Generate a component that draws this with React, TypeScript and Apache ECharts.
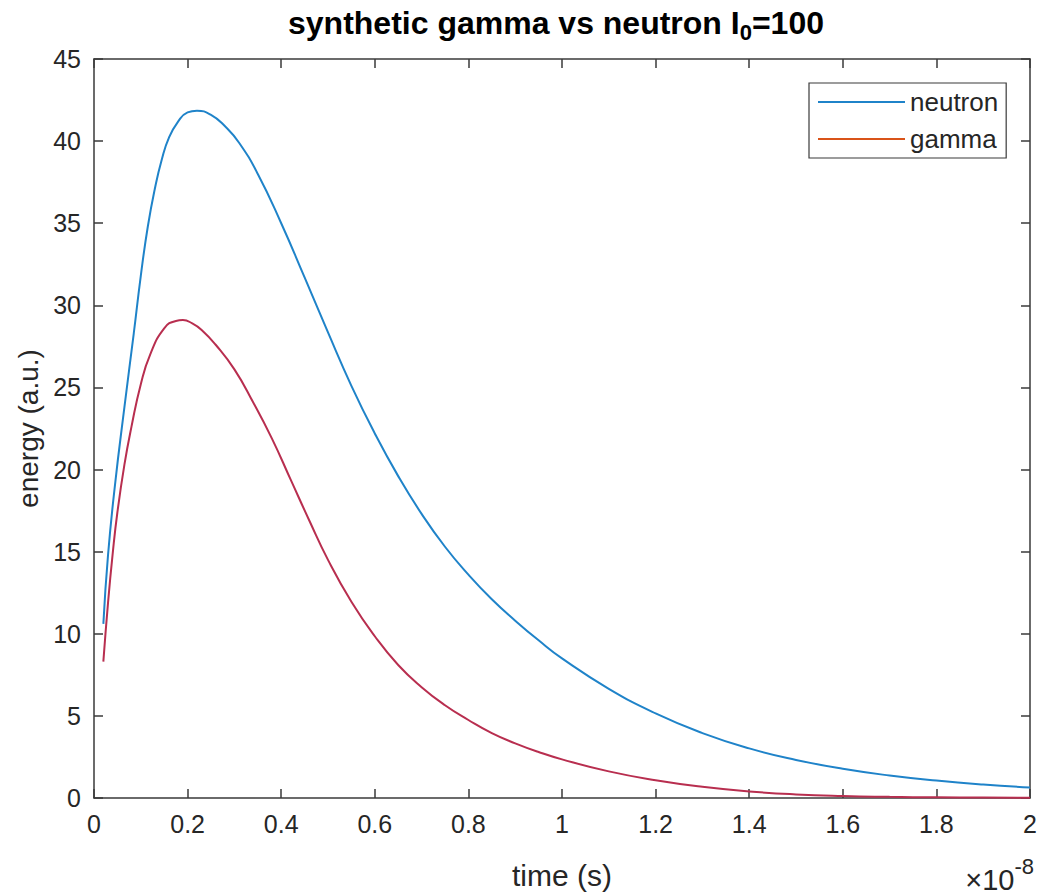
import React, { useEffect, useRef } from 'react';
import * as echarts from 'echarts';

// time in units of 1e-8 s
const neutronTime = [0.02, 0.03, 0.045, 0.065, 0.085, 0.1, 0.115, 0.13, 0.145, 0.16, 0.18, 0.2, 0.22, 0.25, 0.28, 0.31, 0.35, 0.4, 0.45, 0.5, 0.55, 0.6, 0.65, 0.7, 0.75, 0.8, 0.85, 0.9, 0.95, 1.0, 1.1, 1.2, 1.3, 1.4, 1.5, 1.6, 1.7, 1.8, 1.9, 2.0];
const neutronEnergy = [10.6, 14.8, 19.1, 23.8, 28.3, 31.8, 34.8, 37.1, 38.9, 40.2, 41.2, 41.75, 41.85, 41.6, 40.9, 39.9, 38.0, 35.0, 31.7, 28.35, 25.1, 22.2, 19.6, 17.3, 15.3, 13.6, 12.1, 10.8, 9.6, 8.5, 6.65, 5.15, 3.95, 3.02, 2.32, 1.78, 1.37, 1.06, 0.82, 0.64];

const gammaTime = [0.02, 0.03, 0.04, 0.05, 0.065, 0.08, 0.1, 0.12, 0.15, 0.175, 0.19, 0.21, 0.23, 0.26, 0.3, 0.34, 0.38, 0.42, 0.46, 0.5, 0.55, 0.6, 0.65, 0.7, 0.75, 0.8, 0.85, 0.9, 0.95, 1.0, 1.1, 1.2, 1.3, 1.4, 1.5, 1.6, 1.7, 1.8, 1.9, 2.0];
const gammaEnergy = [8.3, 11.9, 14.9, 17.4, 20.3, 22.6, 25.2, 27.0, 28.6, 29.05, 29.1, 28.9, 28.5, 27.6, 26.1, 24.1, 21.9, 19.4, 16.9, 14.5, 11.95, 9.85, 8.1, 6.75, 5.65, 4.75, 3.95, 3.33, 2.8, 2.35, 1.62, 1.08, 0.68, 0.4, 0.22, 0.12, 0.07, 0.04, 0.025, 0.015];

const seriesNames = ['neutron', 'gamma'];
const titleMain = 'synthetic gamma vs neutron I';
const titleSub = '0';
const titleTail = '=100';
const xAxisName = 'time (s)';
const yAxisName = 'energy (a.u.)';
const xRange = [0, 2];
const yRange = [0, 45];

const FONT = '"Liberation Sans", Arial, Helvetica, sans-serif';
const TXT = '#262626';
const AX = '#3a3a3a';
const BLUE = '#1f83c9';
const CRIMSON = '#b82e4f';
const ORANGE = '#d95319';

const GRID = { left: 94, right: 13, top: 59, bottom: 96 };

export default function App() {
  const ref = useRef<HTMLDivElement>(null);
  useEffect(() => {
    document.body.style.margin = '0';
    const chart = echarts.init(ref.current!, undefined, { renderer: 'svg' });
    const axisCommon = {
      type: 'value' as const,
      axisLine: { show: true, onZero: false, lineStyle: { color: AX, width: 1.5 } },
      axisTick: { show: true, inside: true, length: 9, lineStyle: { color: AX, width: 1.5 } },
      splitLine: { show: false },
    };
    const option: any = {
      animation: false,
      backgroundColor: '#ffffff',
      grid: { ...GRID, containLabel: false },
      graphic: [
        {
          type: 'text',
          x: 556,
          y: 23,
          style: {
            text: `{a|${titleMain}}{b|${titleSub}}{a|${titleTail}}`,
            align: 'center',
            verticalAlign: 'middle',
            rich: {
              a: { fontSize: 32, fontWeight: 'bold', fontFamily: FONT, fill: '#000000' },
              b: { fontSize: 22, fontWeight: 'bold', fontFamily: FONT, fill: '#000000', padding: [19, 0, 0, 0] },
            },
          },
        },
        {
          type: 'text',
          x: 1034,
          y: 880,
          style: {
            text: '{a|×10}{b|-8}',
            align: 'right',
            verticalAlign: 'middle',
            rich: {
              a: { fontSize: 29, fontFamily: FONT, fill: TXT },
              b: { fontSize: 22, fontFamily: FONT, fill: TXT, padding: [0, 0, 28, 0] },
            },
          },
        },
      ],
      legend: {
        orient: 'vertical',
        left: 809,
        top: 83,
        padding: [4, 8, 4, 9],
        itemGap: 7,
        itemWidth: 87,
        itemHeight: 2,
        icon: 'rect',
        backgroundColor: '#ffffff',
        borderColor: AX,
        borderWidth: 1.2,
        data: seriesNames,
        textStyle: { fontSize: 26, fontFamily: FONT, color: TXT, lineHeight: 30 },
      },
      xAxis: [
        {
          ...axisCommon,
          position: 'bottom',
          min: xRange[0],
          max: xRange[1],
          interval: 0.2,
          name: xAxisName,
          nameLocation: 'middle',
          nameGap: 62,
          nameTextStyle: { fontSize: 30, fontFamily: FONT, color: TXT },
          axisLabel: { fontSize: 25, fontFamily: FONT, color: TXT, margin: 13 },
        },
        {
          ...axisCommon,
          position: 'top',
          min: xRange[0],
          max: xRange[1],
          interval: 0.2,
          axisLabel: { show: false },
        },
      ],
      yAxis: [
        {
          ...axisCommon,
          position: 'left',
          min: yRange[0],
          max: yRange[1],
          interval: 5,
          name: yAxisName,
          nameLocation: 'middle',
          nameGap: 52,
          nameTextStyle: { fontSize: 28, fontFamily: FONT, color: TXT },
          axisLabel: { fontSize: 25, fontFamily: FONT, color: TXT, margin: 13 },
        },
        {
          ...axisCommon,
          position: 'right',
          min: yRange[0],
          max: yRange[1],
          interval: 5,
          axisLabel: { show: false },
        },
      ],
      series: [
        {
          name: seriesNames[0],
          type: 'line',
          xAxisIndex: 0,
          yAxisIndex: 0,
          symbol: 'none',
          smooth: 0.5,
          data: neutronTime.map((t, i) => [t, neutronEnergy[i]]),
          itemStyle: { color: BLUE },
          lineStyle: { color: BLUE, width: 2 },
        },
        {
          name: seriesNames[1],
          type: 'line',
          xAxisIndex: 0,
          yAxisIndex: 0,
          symbol: 'none',
          smooth: 0.5,
          data: gammaTime.map((t, i) => [t, gammaEnergy[i]]),
          itemStyle: { color: ORANGE },
          lineStyle: { color: CRIMSON, width: 2 },
        },
      ],
    };
    chart.setOption(option);
    return () => chart.dispose();
  }, []);
  return <div ref={ref} style={{ position: 'absolute', left: 0, top: 0, width: 1043, height: 895 }} />;
}
